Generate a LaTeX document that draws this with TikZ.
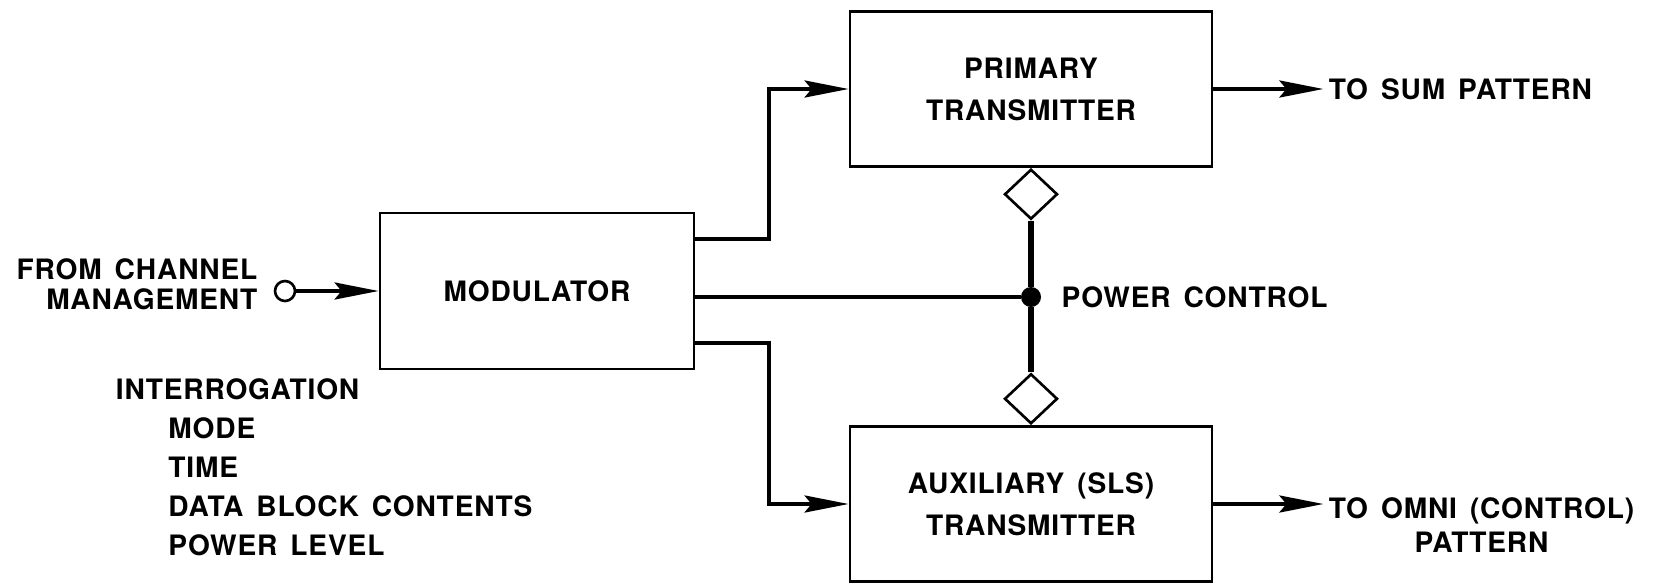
\documentclass[tikz,border=0pt]{standalone}
\usepackage{fontspec}
\setmainfont{TeX Gyre Heros}[LetterSpace=3, WordSpace=1.5]
\usepackage{tikz}
\usetikzlibrary{shapes,arrows,arrows.meta,positioning,calc}

\begin{document}
\begin{tikzpicture}[
    node distance=2.5cm,
    every node/.style={align=center, font=\bfseries\fontsize{16pt}{24pt}\selectfont},
    block/.style={rectangle, draw, line width=1.6pt, minimum width=6.28cm, minimum height=3.12cm, text centered},
    transmitter/.style={rectangle, draw, line width=1.6pt, minimum width=7.24cm, minimum height=3.1cm, text centered},
    valve/.style={diamond, draw, line width=1.5pt, minimum width=1.06cm, minimum height=1.0cm, inner sep=0pt},
    port/.style={circle, draw, line width=1.5pt, minimum size=0.4cm, inner sep=0pt},
    dot/.style={circle, fill, minimum size=0.4cm, inner sep=0pt},
    label/.style={inner sep=0.1cm},
    wire/.style={line width=2.2pt},
    powerline/.style={line width=3.2pt},
    arrow/.style={line width=2.2pt, -{Stealth[length=0.88cm, width=0.34cm, inset=0.14cm]}}
]
\useasboundingbox (0,0) rectangle (33.3,-11.74);

% Modulator and its input
\node[block] (modulator) at (10.74,-5.82) {MODULATOR};
\node[port, left of=modulator, xshift=-2.54cm] (port) {};
\node[label, align=right, left=0.22cm of port, yshift=0.14cm, font=\bfseries\fontsize{16pt}{17pt}\selectfont] (source) {FROM CHANNEL\\MANAGEMENT};
\node[label, align=left, anchor=north west, font=\bfseries\fontsize{16pt}{22.2pt}\selectfont] (params) at ([xshift=-5.36cm, yshift=-0.06cm]modulator.south west) {INTERROGATION\\\hspace{1.05cm}MODE\\\hspace{1.05cm}TIME\\\hspace{1.05cm}DATA BLOCK CONTENTS\\\hspace{1.05cm}POWER LEVEL};

% Transmitters
\node[transmitter, right of=modulator, xshift=7.38cm, yshift=4.04cm] (primary) {PRIMARY\\TRANSMITTER};
\node[transmitter, below of=primary, yshift=-5.8cm] (aux) {AUXILIARY (SLS)\\TRANSMITTER};

% Power control
\node[valve, below=0pt of primary] (ptop) {};
\node[valve, above=0pt of aux] (pbot) {};
\node[dot, yshift=-0.12cm] (junction) at (ptop |- modulator) {};
\node[label, right=0.3cm of junction] (powerctl) {POWER CONTROL};

% Outputs
\node[label, right=2.2cm of primary] (sum) {TO SUM PATTERN};
\node[label, right=2.2cm of aux, yshift=-0.42cm, font=\bfseries\fontsize{16pt}{19.3pt}\selectfont] (omni) {TO OMNI (CONTROL)\\PATTERN};

% Connections
\draw[arrow] (port) -- (modulator);
\draw[arrow] ([yshift=1.04cm]modulator.east) -| ([xshift=-1.6cm]primary.west) -- (primary.west);
\draw[arrow] ([yshift=-1.04cm]modulator.east) -| ([xshift=-1.6cm]aux.west) -- (aux.west);
\draw[wire] (modulator.east |- junction) -- (junction);
\draw[powerline] (ptop.south) -- (junction) -- (pbot.north);
\draw[arrow] (primary) -- (sum);
\draw[arrow] (aux.east) -- (aux.east -| omni.west);

\end{tikzpicture}
\end{document}
